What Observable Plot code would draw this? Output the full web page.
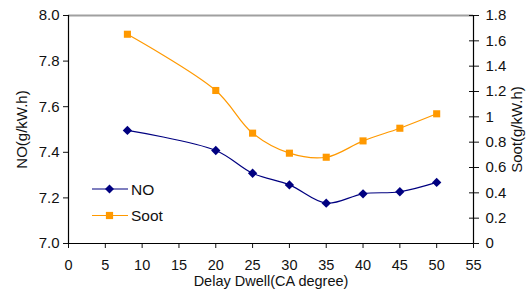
<!DOCTYPE html>
<html><head><meta charset="utf-8">
<script src="https://cdn.jsdelivr.net/npm/d3@7"></script>
<script src="https://cdn.jsdelivr.net/npm/@observablehq/plot@0.6"></script>
<style>
body{margin:0;background:#fff;font-family:"Liberation Sans",Arial,sans-serif}
#wrap{position:relative;width:529px;height:297px}
#legend{position:absolute;left:0;top:0;pointer-events:none}
</style></head><body><div id="wrap"></div>
<script>
const dwell = [8, 20, 25, 30, 35, 40, 45, 50];
const noVals = [7.496, 7.408, 7.308, 7.257, 7.177, 7.218, 7.227, 7.268];
const sootVals = [1.652, 1.208, 0.871, 0.713, 0.681, 0.81, 0.91, 1.024];
const xTicks = [0, 5, 10, 15, 20, 25, 30, 35, 40, 45, 50, 55];
const noTicks = [7.0, 7.2, 7.4, 7.6, 7.8, 8.0];
const sootTicks = [0, 0.2, 0.4, 0.6, 0.8, 1.0, 1.2, 1.4, 1.6, 1.8];
const sootTickLabels = ["0", "0.2", "0.4", "0.6", "0.8", "1", "1.2", "1.4", "1.6", "1.8"];
const seriesNames = ["NO", "Soot"];
const NO_MIN = 7, NO_MAX = 8, SOOT_MAX = 1.8;
const toNO = v => NO_MIN + v * (NO_MAX - NO_MIN) / SOOT_MAX;

const rows = dwell.map((x, i) => ({x, no: noVals[i], soot: toNO(sootVals[i])}));
const NAVY = "#000080", ORANGE = "#FF9900";
const FONT = '"Liberation Sans", Arial, sans-serif';

const chart = Plot.plot({
  width: 529, height: 297,
  marginLeft: 68, marginRight: 56, marginTop: 15, marginBottom: 54,
  style: {fontFamily: FONT, fontSize: "15px", color: "#111", background: "#fff"},
  x: {domain: [0, 55]},
  y: {domain: [NO_MIN, NO_MAX]},
  marks: [
    Plot.ruleY([NO_MAX], {stroke: "#a0a0a0", strokeWidth: 2}),
    Plot.axisY({anchor: "left", ticks: noTicks, tickSize: 5, tickPadding: 4, tickFormat: d3.format(".1f"),
      label: "NO(g/kW.h)", labelAnchor: "center", labelOffset: 52, labelArrow: "none", fontSize: 15}),
    Plot.axisY({anchor: "right", ticks: sootTicks.map(toNO), tickSize: 5, tickPadding: 7,
      tickFormat: (d, i) => sootTickLabels[i],
      label: "Soot(g/kW.h)", labelAnchor: "center", labelOffset: 48, labelArrow: "none", fontSize: 15}),
    Plot.axisY({anchor: "right", ticks: sootTicks.map(toNO), tickSize: 5, dx: -5, text: null, label: null}),
    Plot.axisX({anchor: "bottom", ticks: xTicks, tickSize: 5, tickPadding: 11, fontSize: 14.5,
      label: null}),
    Plot.axisX({anchor: "bottom", ticks: [], tickSize: 0,
      label: "Delay Dwell(CA degree)", labelAnchor: "center", labelOffset: 42, labelArrow: "none", fontSize: 14.5}),
    Plot.ruleX([0, 55], {stroke: "#000", strokeWidth: 1.2}),
    Plot.ruleY([NO_MIN], {stroke: "#000", strokeWidth: 1.2}),
    Plot.line(rows, {x: "x", y: "soot", stroke: ORANGE, strokeWidth: 1.2, curve: "catmull-rom"}),
    Plot.dot(rows, {x: "x", y: "soot", symbol: "square", fill: ORANGE, r: 4}),
    Plot.line(rows, {x: "x", y: "no", stroke: NAVY, strokeWidth: 1.2, curve: "catmull-rom"}),
    Plot.dot(rows, {x: "x", y: "no", symbol: "diamond2", fill: NAVY, r: 4.2})
  ]
});
const wrap = document.getElementById("wrap");
wrap.appendChild(chart);

// legend overlay
const ns = "http://www.w3.org/2000/svg";
const lg = document.createElementNS(ns, "svg");
lg.setAttribute("id", "legend");
lg.setAttribute("width", 529); lg.setAttribute("height", 297);
const items = [{name: seriesNames[0], color: NAVY, sym: d3.symbolDiamond2, y: 189},
               {name: seriesNames[1], color: ORANGE, sym: d3.symbolSquare, y: 215.5}];
items.forEach(it => {
  const l = document.createElementNS(ns, "line");
  l.setAttribute("x1", 92); l.setAttribute("x2", 128);
  l.setAttribute("y1", it.y); l.setAttribute("y2", it.y);
  l.setAttribute("stroke", it.color); l.setAttribute("stroke-width", 1.2);
  lg.appendChild(l);
  const p = document.createElementNS(ns, "path");
  p.setAttribute("d", d3.symbol(it.sym, 52)());
  p.setAttribute("transform", `translate(109.5,${it.y})`);
  p.setAttribute("fill", it.color);
  lg.appendChild(p);
  const t = document.createElementNS(ns, "text");
  t.setAttribute("x", 131); t.setAttribute("y", it.y);
  t.setAttribute("dy", "0.36em");
  t.setAttribute("font-size", 15.5);
  t.setAttribute("font-family", FONT);
  t.setAttribute("fill", "#111");
  t.textContent = it.name;
  lg.appendChild(t);
});
wrap.appendChild(lg);
</script></body></html>
